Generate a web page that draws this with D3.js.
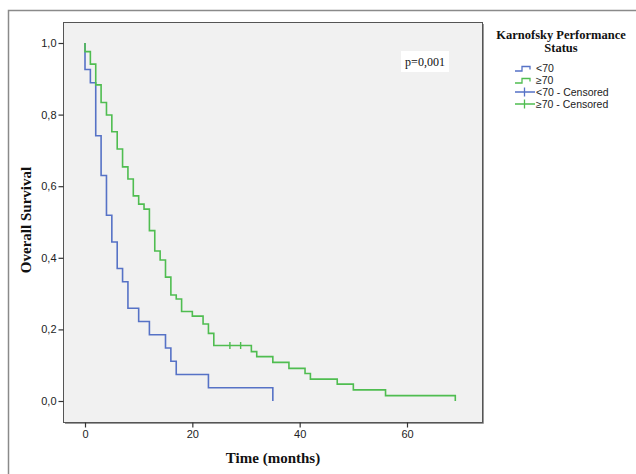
<!DOCTYPE html>
<html>
<head>
<meta charset="utf-8">
<script src="https://cdn.jsdelivr.net/npm/d3@7"></script>
<style>
  body { margin: 0; background: #fff; }
  svg { display: block; }
</style>
</head>
<body>
<div id="chart"></div>
<script>
// Kaplan-Meier steps (months, survival after the step)
const lowTimes = [0, 0, 1, 2, 3, 4, 5, 6, 7, 8, 10, 12, 15, 16, 17, 23, 35];
const lowSurv  = [1, 0.926, 0.889, 0.741, 0.630, 0.519, 0.444, 0.370, 0.333, 0.259, 0.222, 0.185, 0.148, 0.111, 0.074, 0.037, 0];

const highTimes = [0, 0, 1, 2, 3, 4, 5, 6, 7, 8, 9, 10, 11, 12, 13, 14, 15, 16, 17, 18, 20, 22, 23, 24, 31, 32, 35, 38, 41, 42, 47, 50, 56, 69];
const highSurv  = [1, 0.976, 0.941, 0.883, 0.834, 0.799, 0.752, 0.704, 0.654, 0.620, 0.573, 0.550, 0.536, 0.476, 0.419, 0.394, 0.346, 0.296, 0.285, 0.250, 0.237, 0.215, 0.189, 0.155, 0.138, 0.124, 0.108, 0.091, 0.077, 0.061, 0.047, 0.031, 0.015, 0];

const highCensTimes = [27, 29];
const highCensSurv  = [0.155, 0.155];

const xTicks = [0, 20, 40, 60];
const yTicks = [0, 0.2, 0.4, 0.6, 0.8, 1.0];

const legendLabels = ["<70", "\u226570", "<70 - Censored", "\u226570 - Censored"];
const pValue = "p=0,001";

const blue = "#5672c6", green = "#4fbd50";

const W = 636, H = 474;
const frame = {left: 63, top: 22, right: 482, bottom: 422};

const svg = d3.select("#chart").append("svg")
    .attr("width", W).attr("height", H);

// outer border of the figure
svg.append("path")
    .attr("d", `M8.5,${H} V10.5 H${W}`)
    .attr("fill", "none").attr("stroke", "#8a8a8a").attr("stroke-width", 1.5);

// plot area
svg.append("rect")
    .attr("x", frame.left + 0.5).attr("y", frame.top + 0.5)
    .attr("width", frame.right - frame.left).attr("height", frame.bottom - frame.top)
    .attr("fill", "#f1f1f1").attr("stroke", "#555").attr("stroke-width", 1);
svg.append("path")
    .attr("d", `M${frame.right + 1.5},${frame.top + 2} V${frame.bottom + 1.5} H${frame.left + 2}`)
    .attr("fill", "none").attr("stroke", "#9a9a9a").attr("stroke-width", 1);

const x = d3.scaleLinear().domain([0, 60]).range([85, 407]);
const y = d3.scaleLinear().domain([0, 1]).range([401, 43]);

const tickFont = "'Liberation Sans', Arial, sans-serif";
const serif = "'Liberation Serif', 'Times New Roman', serif";

// axes
const xAxis = svg.append("g")
    .attr("transform", `translate(0,${frame.bottom + 0.5})`)
    .call(d3.axisBottom(x).tickValues(xTicks).tickSize(5).tickPadding(3).tickFormat(d3.format("d")));
const yAxis = svg.append("g")
    .attr("transform", `translate(${frame.left + 0.5},0)`)
    .call(d3.axisLeft(y).tickValues(yTicks).tickSize(5).tickPadding(2)
        .tickFormat(d => d3.format(".1f")(d).replace(".", ",")));
[xAxis, yAxis].forEach(g => {
  g.select(".domain").remove();
  g.selectAll(".tick line").attr("stroke", "#333").attr("stroke-width", 1.2);
  g.selectAll("text").attr("fill", "#222").style("font-family", tickFont).style("font-size", "11px");
});

// axis titles
svg.append("text")
    .attr("x", 273).attr("y", 463)
    .attr("text-anchor", "middle")
    .style("font-family", serif).style("font-weight", "bold").style("font-size", "15px")
    .attr("fill", "#111")
    .text("Time (months)");
svg.append("text")
    .attr("transform", "translate(31,220) rotate(-90)")
    .attr("text-anchor", "middle")
    .style("font-family", serif).style("font-weight", "bold").style("font-size", "15px")
    .attr("fill", "#111")
    .text("Overall Survival");

// survival curves
const step = d3.line()
    .x(d => x(d[0]))
    .y(d => y(d[1]))
    .curve(d3.curveStepAfter);

const series = [
  {times: lowTimes, surv: lowSurv, color: blue},
  {times: highTimes, surv: highSurv, color: green}
];
series.forEach(s => {
  svg.append("path")
      .datum(d3.zip(s.times, s.surv))
      .attr("fill", "none")
      .attr("stroke", s.color)
      .attr("stroke-width", 1.6)
      .attr("d", step);
});

// censor marks
svg.append("g").selectAll("line")
    .data(d3.zip(highCensTimes, highCensSurv))
    .join("line")
    .attr("x1", d => x(d[0])).attr("x2", d => x(d[0]))
    .attr("y1", d => y(d[1]) - 3.5).attr("y2", d => y(d[1]) + 3.5)
    .attr("stroke", green).attr("stroke-width", 1.4);

// p value box
const pBox = svg.append("g").attr("transform", "translate(401,51)");
pBox.append("rect").attr("width", 48).attr("height", 21).attr("fill", "#fff");
pBox.append("text")
    .attr("x", 24).attr("y", 15)
    .attr("text-anchor", "middle")
    .style("font-family", serif).style("font-size", "12px")
    .attr("fill", "#111")
    .text(pValue);

// legend
const legend = svg.append("g");
["Karnofsky Performance", "Status"].forEach((t, i) => {
  legend.append("text")
      .attr("x", 561).attr("y", 39 + i * 13)
      .attr("text-anchor", "middle")
      .style("font-family", serif).style("font-weight", "bold").style("font-size", "12.5px")
      .attr("fill", "#111")
      .text(t);
});

const legendColors = [blue, green, blue, green];
legendLabels.forEach((label, i) => {
  const cy = 68 + i * 12;
  const g = legend.append("g");
  if (i < 2) {
    g.append("path")
        .attr("d", `M515,${cy + 3} H522 V${cy - 1.5} H530 V${cy + 1.5}`)
        .attr("fill", "none").attr("stroke", legendColors[i]).attr("stroke-width", 1.3);
  } else {
    g.append("path")
        .attr("d", `M515,${cy} H535 M524.5,${cy - 4.5} V${cy + 4.5}`)
        .attr("fill", "none").attr("stroke", legendColors[i]).attr("stroke-width", 1.3);
  }
  g.append("text")
      .attr("x", 536).attr("y", cy + 4)
      .style("font-family", tickFont).style("font-size", "10.5px")
      .attr("fill", "#222")
      .text(label);
});
</script>
</body>
</html>
